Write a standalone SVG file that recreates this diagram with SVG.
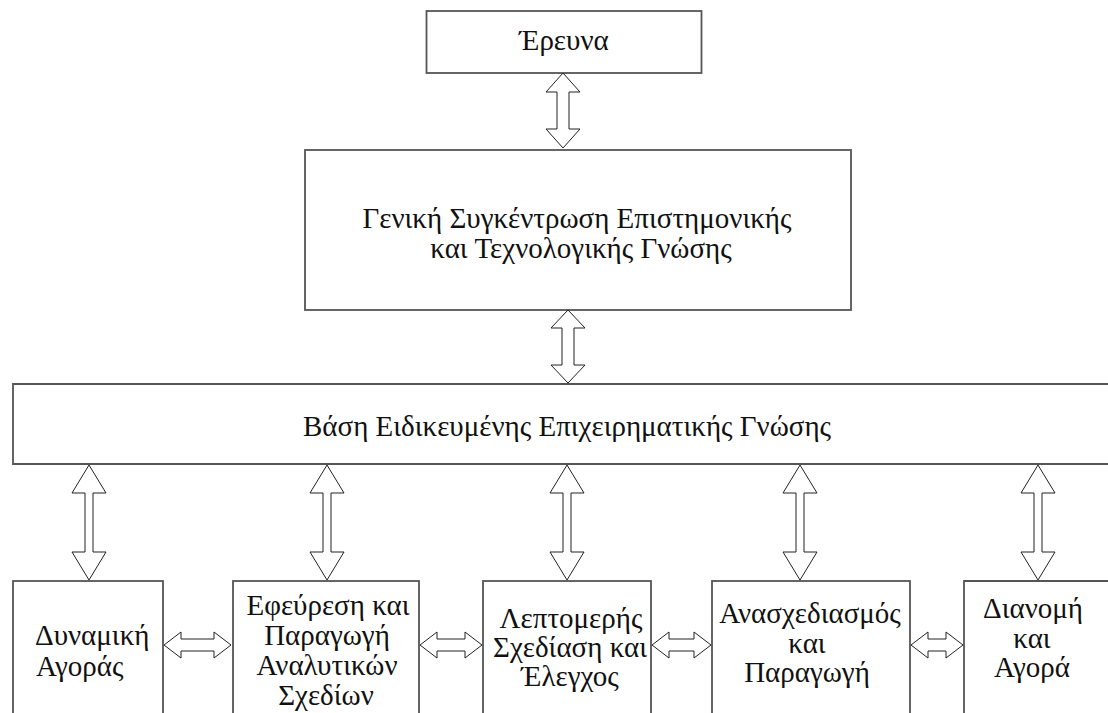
<svg xmlns="http://www.w3.org/2000/svg" width="1108" height="713" viewBox="0 0 1108 713">
<style>
.box{fill:#fff;stroke:#555;stroke-width:1.8}
.arr{fill:#fff;stroke:#222;stroke-width:1}
text{font-family:"Liberation Serif","Times New Roman",serif;font-size:29px;fill:#111;text-anchor:middle}
.l{text-anchor:start}
</style>
<rect width="1108" height="713" fill="#fff"/>
<g id="n-research"><rect class="box" x="426.5" y="11" width="275" height="62"/><text x="564" y="50">Έρευνα</text></g>
<g id="n-general"><rect class="box" x="305" y="150" width="546" height="160"/><text x="577" y="228">Γενική Συγκέντρωση Επιστημονικής</text><text x="581" y="258">και Τεχνολογικής Γνώσης</text></g>
<g id="n-base"><path class="box" d="M1112,384 H13 V464 H1112"/><text x="567" y="436">Βάση Ειδικευμένης Επιχειρηματικής Γνώσης</text></g>
<g id="n-market"><rect class="box" x="13" y="581" width="150" height="140"/><text class="l" x="35" y="645">Δυναμική</text><text class="l" x="36" y="676">Αγοράς</text></g>
<g id="n-invention"><rect class="box" x="233" y="581" width="186" height="140"/><text x="328" y="615">Εφεύρεση και</text><text x="327" y="645">Παραγωγή</text><text x="327" y="675">Αναλυτικών</text><text x="326" y="705">Σχεδίων</text></g>
<g id="n-detail"><rect class="box" x="483" y="581" width="168" height="140"/><text x="571" y="628">Λεπτομερής</text><text x="570" y="657">Σχεδίαση και</text><text x="570" y="686">Έλεγχος</text></g>
<g id="n-redesign"><rect class="box" x="712" y="581" width="198" height="140"/><text x="810" y="623">Ανασχεδιασμός</text><text x="807" y="653">και</text><text x="807" y="682">Παραγωγή</text></g>
<g id="n-distribution"><path class="box" d="M1112,581 H964 V721"/><text x="1033" y="618">Διανομή</text><text x="1032" y="648">και</text><text x="1032" y="677">Αγορά</text></g>
<g id="connectors">
<polygon class="arr" points="563,73 580,92 569,92 569,129 580,129 563,148 546,129 557,129 557,92 546,92"/>
<polygon class="arr" points="568,310 585,328 574,328 574,365 585,365 568,383 551,365 562,365 562,328 551,328"/>
<polygon class="arr" points="89,465 106,493 93,493 93,552 106,552 89,580 72,552 85,552 85,493 72,493"/>
<polygon class="arr" points="327,465 344,493 331,493 331,552 344,552 327,580 310,552 323,552 323,493 310,493"/>
<polygon class="arr" points="567,465 584,493 571,493 571,552 584,552 567,580 550,552 563,552 563,493 550,493"/>
<polygon class="arr" points="800,465 817,493 804,493 804,552 817,552 800,580 783,552 796,552 796,493 783,493"/>
<polygon class="arr" points="1038,465 1055,493 1042,493 1042,552 1055,552 1038,580 1021,552 1034,552 1034,493 1021,493"/>
<polygon class="arr" points="164,645 181,632 181,639 214,639 214,632 231,645 214,658 214,651 181,651 181,658"/>
<polygon class="arr" points="420,645 437,632 437,639 465,639 465,632 482,645 465,658 465,651 437,651 437,658"/>
<polygon class="arr" points="652,645 669,632 669,639 694,639 694,632 711,645 694,658 694,651 669,651 669,658"/>
<polygon class="arr" points="911,645 928,632 928,639 946,639 946,632 963,645 946,658 946,651 928,651 928,658"/>
</g>
</svg>
